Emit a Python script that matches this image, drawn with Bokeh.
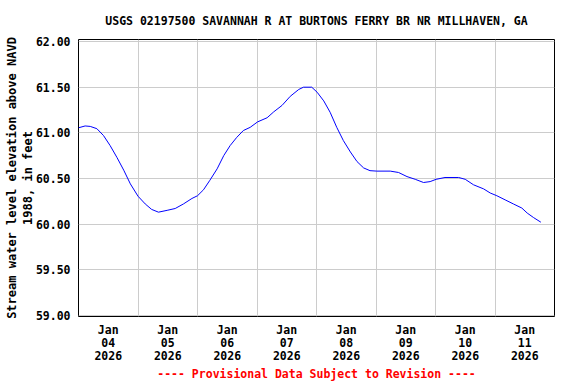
import pandas as pd
from bokeh.plotting import figure
from bokeh.models import Range1d, FixedTicker, PrintfTickFormatter
from bokeh.embed import file_html
from bokeh.resources import INLINE

title_text = "USGS 02197500 SAVANNAH R AT BURTONS FERRY BR NR MILLHAVEN, GA"
y_label = "Stream water level elevation above NAVD\n1988, in feet"
footnote = "---- Provisional Data Subject to Revision ----"

times = [
    "2026-01-04 00:00", "2026-01-04 02:40", "2026-01-04 04:45", "2026-01-04 07:25",
    "2026-01-04 10:05", "2026-01-04 12:45", "2026-01-04 15:30", "2026-01-04 18:15",
    "2026-01-04 20:55", "2026-01-05 00:00", "2026-01-05 02:55", "2026-01-05 05:30",
    "2026-01-05 08:15", "2026-01-05 11:45", "2026-01-05 15:00", "2026-01-05 18:20",
    "2026-01-05 21:45", "2026-01-06 00:00", "2026-01-06 02:25", "2026-01-06 05:00",
    "2026-01-06 07:55", "2026-01-06 10:35", "2026-01-06 13:10", "2026-01-06 15:50",
    "2026-01-06 18:30", "2026-01-06 21:15", "2026-01-07 00:15", "2026-01-07 04:05",
    "2026-01-07 06:45", "2026-01-07 10:05", "2026-01-07 13:25", "2026-01-07 16:50",
    "2026-01-07 18:45", "2026-01-07 22:05", "2026-01-08 00:15", "2026-01-08 02:55",
    "2026-01-08 05:30", "2026-01-08 08:10", "2026-01-08 10:50", "2026-01-08 13:40",
    "2026-01-08 16:20", "2026-01-08 19:00", "2026-01-08 21:35", "2026-01-09 00:20",
    "2026-01-09 05:45", "2026-01-09 09:05", "2026-01-09 12:30", "2026-01-09 15:50",
    "2026-01-09 19:10", "2026-01-09 21:50", "2026-01-10 00:15", "2026-01-10 03:50",
    "2026-01-10 09:20", "2026-01-10 12:00", "2026-01-10 15:20", "2026-01-10 19:25",
    "2026-01-10 22:05", "2026-01-11 00:45", "2026-01-11 04:05", "2026-01-11 07:25",
    "2026-01-11 10:50", "2026-01-11 13:00", "2026-01-11 15:35", "2026-01-11 18:30",
]
levels = [
    61.055, 61.075, 61.07, 61.045,
    60.97, 60.86, 60.73, 60.59,
    60.44, 60.305, 60.22, 60.16,
    60.13, 60.15, 60.17, 60.22,
    60.28, 60.31, 60.375, 60.48,
    60.605, 60.75, 60.86, 60.95,
    61.025, 61.06, 61.12, 61.165,
    61.23, 61.30, 61.40, 61.475,
    61.50, 61.50, 61.445, 61.35,
    61.225, 61.06, 60.915, 60.79,
    60.685, 60.615, 60.585, 60.58,
    60.58, 60.565, 60.52, 60.49,
    60.455, 60.465, 60.49, 60.51,
    60.51, 60.49, 60.43, 60.385,
    60.34, 60.31, 60.265, 60.22,
    60.175, 60.12, 60.07, 60.02,
]

day_starts = ["2026-01-04", "2026-01-05", "2026-01-06", "2026-01-07",
              "2026-01-08", "2026-01-09", "2026-01-10", "2026-01-11", "2026-01-12"]
label_times = ["2026-01-04 12:00", "2026-01-05 12:00", "2026-01-06 12:00", "2026-01-07 12:00",
               "2026-01-08 12:00", "2026-01-09 12:00", "2026-01-10 12:00", "2026-01-11 12:00"]
x_tick_labels = ["Jan\n04\n2026", "Jan\n05\n2026", "Jan\n06\n2026", "Jan\n07\n2026",
                 "Jan\n08\n2026", "Jan\n09\n2026", "Jan\n10\n2026", "Jan\n11\n2026"]
y_ticks = [59.0, 59.5, 60.0, 60.5, 61.0, 61.5, 62.0]


def ms(s):
    return float(pd.Timestamp(s).value // 10**6)


x = pd.to_datetime(times)
day_ms = [ms(d) for d in day_starts]
label_ms = [ms(t) for t in label_times]

FONT = "DejaVu Sans Mono"

p = figure(width=576, height=384, x_axis_type="datetime",
           output_backend="svg", toolbar_location=None,
           x_range=Range1d(day_ms[0], day_ms[-1]),
           y_range=Range1d(58.986, 62.023),
           min_border_left=78, min_border_right=22,
           min_border_top=39, min_border_bottom=68)

p.title.text = title_text
p.title.align = "center"
p.title.text_font = FONT
p.title.text_font_size = "11.5px"
p.title.text_font_style = "bold"
p.title.text_color = "black"
p.title.standoff = 23

p.outline_line_color = "black"
p.outline_line_width = 1
p.background_fill_color = "white"
p.border_fill_color = "white"

p.line(x, levels, line_color="#0000ff", line_width=1)

# grids
p.xgrid.ticker = FixedTicker(ticks=day_ms)
p.ygrid.ticker = FixedTicker(ticks=y_ticks)
for g in (p.xgrid, p.ygrid):
    g.grid_line_color = "#cccccc"
    g.grid_line_width = 1

# x axis
xa = p.xaxis[0]
xa.ticker = FixedTicker(ticks=label_ms)
xa.major_label_overrides = {m: lab for m, lab in zip(label_ms, x_tick_labels)}
xa.major_tick_in = 0
xa.major_tick_out = 0
xa.minor_tick_in = 0
xa.minor_tick_out = 0
xa.axis_line_color = None
xa.major_label_text_font = FONT
xa.major_label_text_font_size = "11.5px"
xa.major_label_text_font_style = "bold"
xa.major_label_text_color = "black"
xa.major_label_text_line_height = 0.95
xa.major_label_standoff = 6
xa.axis_label = footnote
xa.axis_label_text_font = FONT
xa.axis_label_text_font_size = "11.5px"
xa.axis_label_text_font_style = "bold"
xa.axis_label_text_color = "#ff0000"
xa.axis_label_standoff = 1

# y axis
ya = p.yaxis[0]
ya.ticker = FixedTicker(ticks=y_ticks)
ya.formatter = PrintfTickFormatter(format="%.2f")
ya.major_tick_in = 0
ya.major_tick_out = 0
ya.minor_tick_in = 0
ya.minor_tick_out = 0
ya.axis_line_color = None
ya.major_label_text_font = FONT
ya.major_label_text_font_size = "11.5px"
ya.major_label_text_font_style = "bold"
ya.major_label_text_color = "black"
ya.major_label_standoff = 8
ya.axis_label = y_label
ya.axis_label_text_font = FONT
ya.axis_label_text_font_size = "12px"
ya.axis_label_text_font_style = "bold"
ya.axis_label_text_color = "black"
ya.axis_label_text_line_height = 1.1
ya.axis_label_standoff = -2

open("out.html", "w").write(file_html(p, INLINE))
